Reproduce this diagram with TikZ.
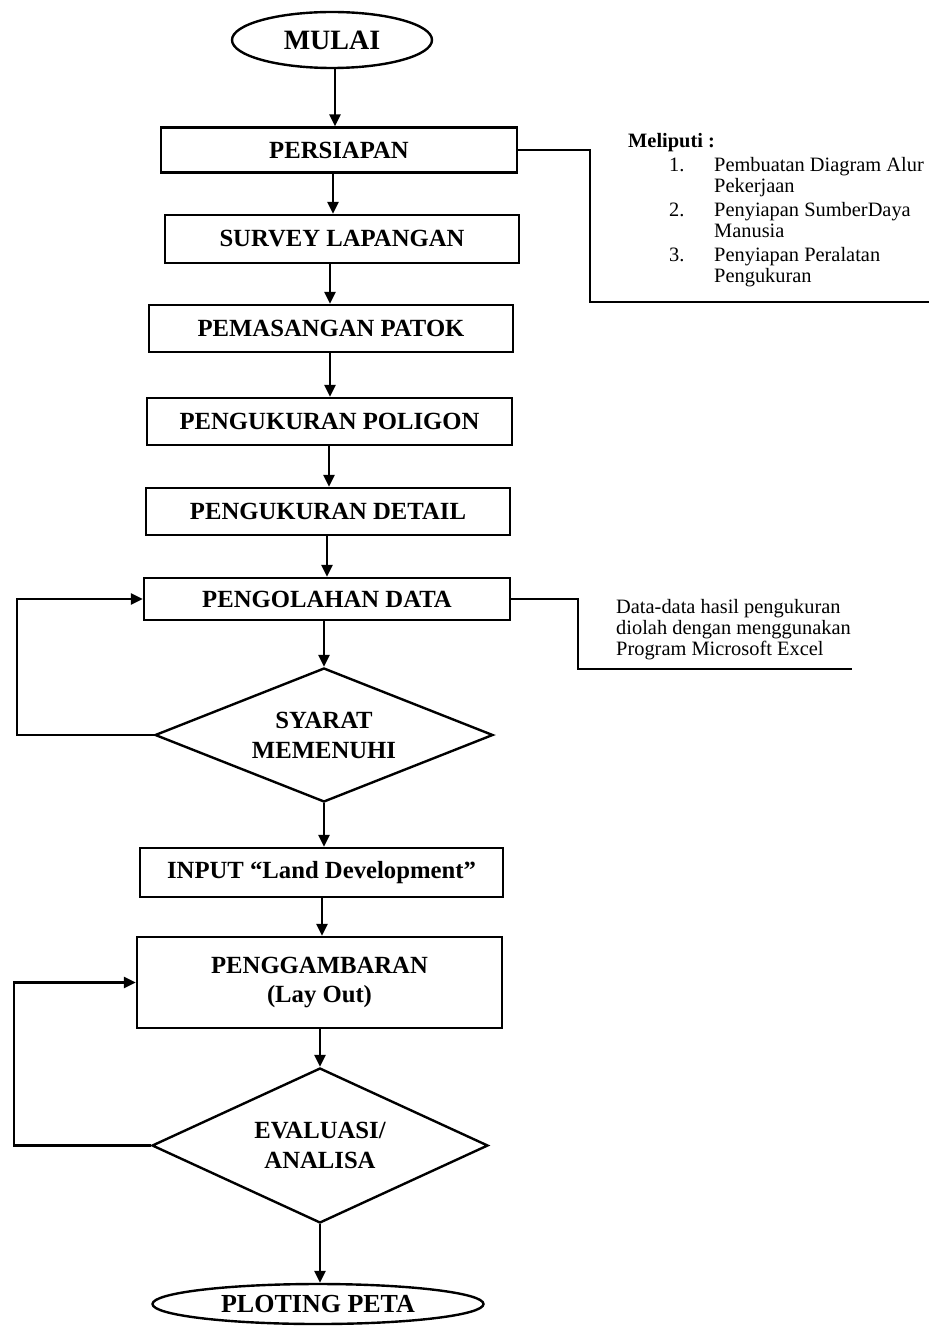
\documentclass[tikz,border=0pt]{standalone}
\usepackage{fontspec}
\setmainfont{Liberation Serif}
\usepackage{tikz}
\usetikzlibrary{shapes.geometric,arrows.meta,positioning,calc}

\begin{document}
\begin{tikzpicture}[x=0.5pt, y=-0.5pt, line width=1.2pt,
    proses/.style={draw, rectangle, inner sep=0pt, align=center, font=\fontsize{12.35}{14.5}\selectfont\bfseries},
    kondisi/.style={draw, diamond, shape aspect=2.5, inner sep=0pt, align=center, font=\fontsize{12.35}{15}\selectfont\bfseries},
    terminal/.style={draw, ellipse, inner sep=0pt, font=\fontsize{12.35}{15}\selectfont\bfseries},
    ket/.style={inner sep=0pt, anchor=base west, font=\fontsize{10.2}{12}\selectfont},
    panah/.style={-{Triangle[length=6pt,width=5.5pt]}}]
    \useasboundingbox[fill=white] (0,0) rectangle (929,1326);

    % Terminal, proses dan kondisi
    \node[terminal, minimum width=100pt, minimum height=28pt, font=\fontsize{14}{16}\selectfont\bfseries] (mulai) at (332,40) {MULAI};
    \node[proses, minimum width=178pt, minimum height=22.5pt] (persiapan) at (339,150) {PERSIAPAN};
    \node[proses, minimum width=177pt, minimum height=24pt] (survey) at (342,239) {SURVEY LAPANGAN};
    \node[proses, minimum width=182pt, minimum height=23.5pt] (patok) at (331,328.5) {PEMASANGAN PATOK};
    \node[proses, minimum width=182.5pt, minimum height=23.5pt] (poligon) at (329.5,421.5) {PENGUKURAN POLIGON};
    \node[proses, minimum width=182pt, minimum height=23.5pt] (detail) at (328,511.5) {PENGUKURAN DETAIL};
    \node[proses, minimum width=183pt, minimum height=21pt] (olah) at (327,599) {PENGOLAHAN DATA};
    \node[kondisi, minimum width=169pt, minimum height=67pt] (syarat) at (324,735) {SYARAT\\MEMENUHI};
    \node[proses, minimum width=181.5pt, minimum height=24.5pt] (input) at (321.5,872.5) {INPUT “Land Development”};
    \node[proses, minimum width=182.5pt, minimum height=45.5pt] (gambar) at (319.5,982.5) {PENGGAMBARAN\\(Lay Out)};
    \node[kondisi, minimum width=168pt, minimum height=77.5pt] (evaluasi) at (320,1145.5) {EVALUASI/\\ANALISA};
    \node[terminal, minimum width=165.5pt, minimum height=20pt, font=\fontsize{13}{15}\selectfont\bfseries] (ploting) at (318,1304) {PLOTING PETA};

    % Panah alur
    \draw[panah] (335,0 |- mulai.south) -- (335,0 |- persiapan.north);
    \draw[panah] (333,0 |- persiapan.south) -- (333,0 |- survey.north);
    \draw[panah] (330,0 |- survey.south) -- (330,0 |- patok.north);
    \draw[panah] (330,0 |- patok.south) -- (330,0 |- poligon.north);
    \draw[panah] (329,0 |- poligon.south) -- (329,0 |- detail.north);
    \draw[panah] (327,0 |- detail.south) -- (327,0 |- olah.north);
    \draw[panah] (324,0 |- olah.south) -- (syarat.north);
    \draw[panah] (syarat.south) -- (324,0 |- input.north);
    \draw[panah] (322,0 |- input.south) -- (322,0 |- gambar.north);
    \draw[panah] (320,0 |- gambar.south) -- (evaluasi.north);
    \draw[panah] (evaluasi.south) -- (320,0 |- ploting.north);

    % Umpan balik
    \draw[panah] (syarat.west) -- ++(-137,0) |- (olah.west);
    \draw[panah] (evaluasi.west) -- ++(-137,0) |- (gambar.west);

    % Keterangan persiapan
    \coordinate (ujung1) at (929,302);
    \draw (persiapan.east) -- ++(72,0) |- (ujung1);
    \node[ket, font=\fontsize{10.2}{12}\selectfont\bfseries] (meliputi) at (627,148) {Meliputi :};
    \node[ket] (no1) at (668,172) {1.};
    \node[ket] (isi1a) at (713,172) {Pembuatan Diagram Alur};
    \node[ket] (isi1b) at (713,193) {Pekerjaan};
    \node[ket] (no2) at (668,217) {2.};
    \node[ket] (isi2a) at (713,217) {Penyiapan SumberDaya};
    \node[ket] (isi2b) at (713,238) {Manusia};
    \node[ket] (no3) at (668,262) {3.};
    \node[ket] (isi3a) at (713,262) {Penyiapan Peralatan};
    \node[ket] (isi3b) at (713,283) {Pengukuran};

    % Keterangan pengolahan data
    \coordinate (ujung2) at (852,669);
    \draw (olah.east) -- ++(67,0) |- (ujung2);
    \node[ket] (data1) at (615,613) {Data-data hasil pengukuran};
    \node[ket] (data2) at (615,634) {diolah dengan menggunakan};
    \node[ket] (data3) at (615,655) {Program Microsoft Excel};
\end{tikzpicture}
\end{document}
